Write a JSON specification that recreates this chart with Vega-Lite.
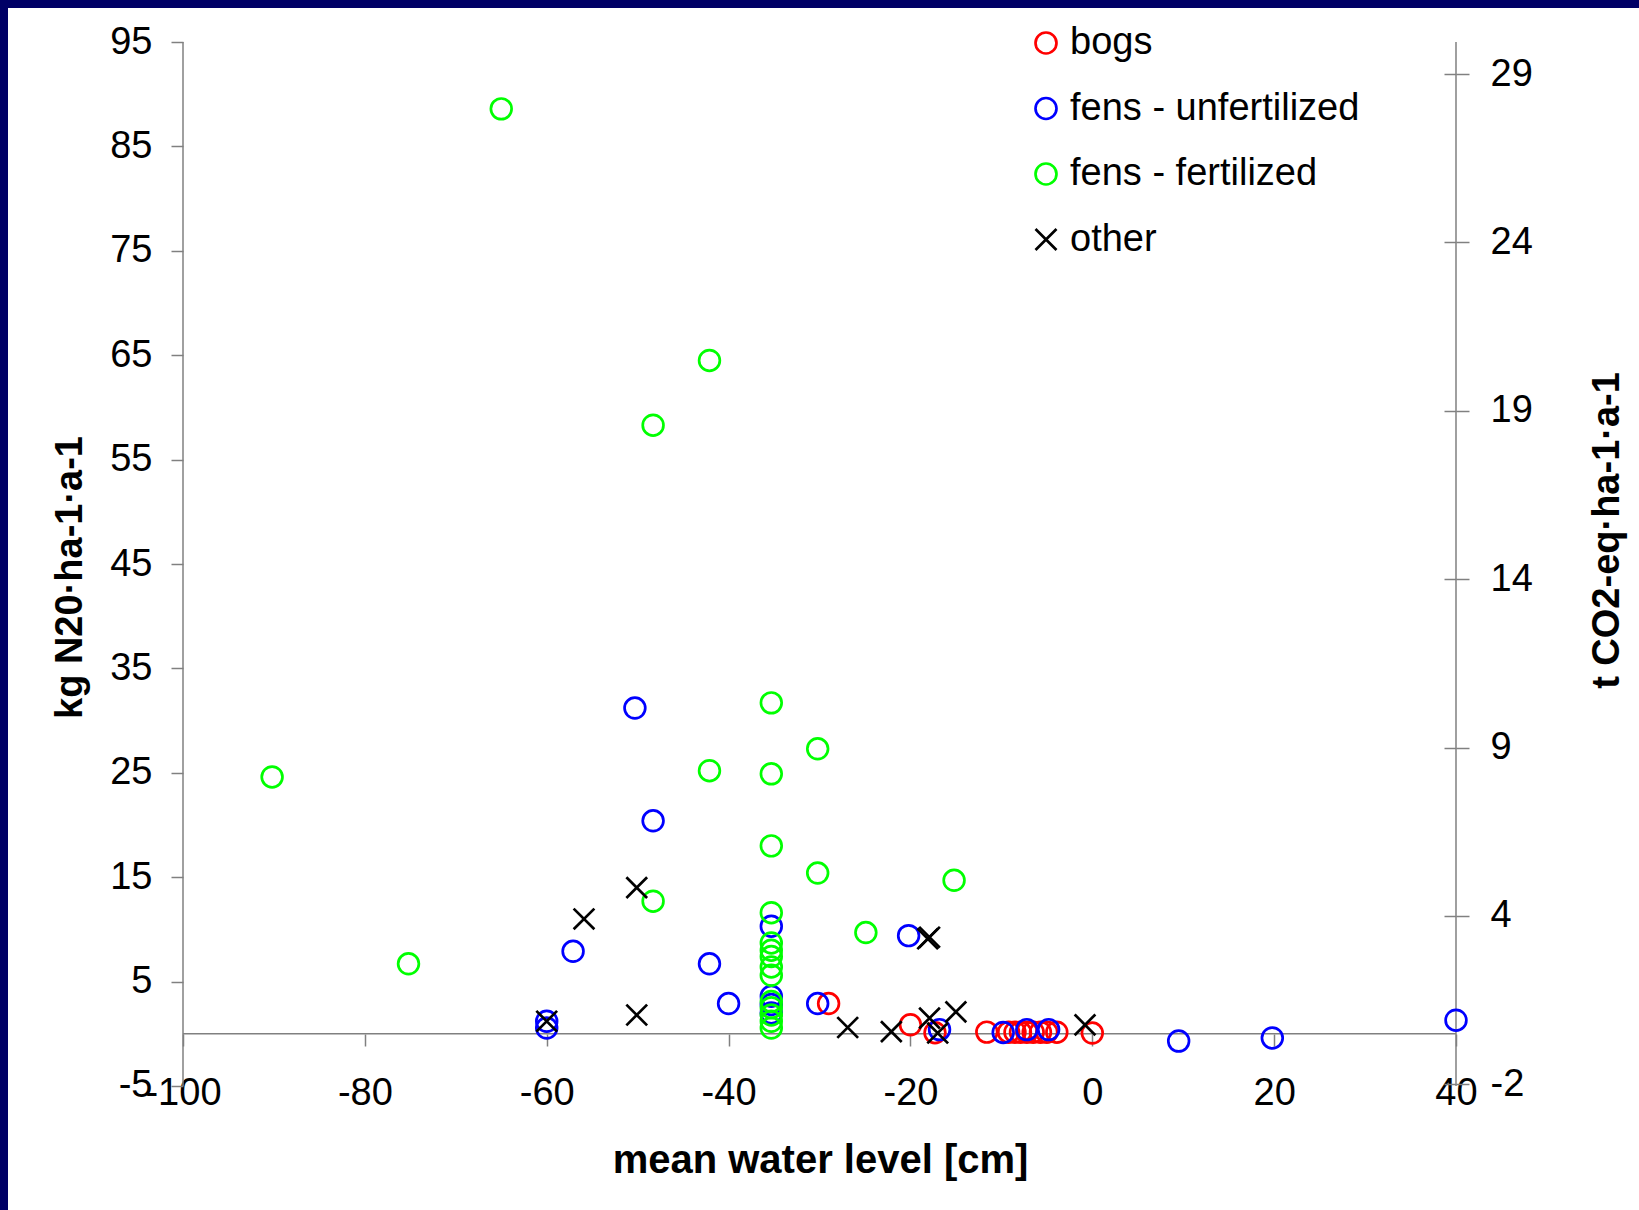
{
  "$schema": "https://vega.github.io/schema/vega-lite/v6.json",
  "width": 1631,
  "height": 1202,
  "autosize": {"type": "none"},
  "padding": {"left": 8, "top": 8, "right": 0, "bottom": 0},
  "background": "#000066",
  "config": {
    "view": {"fill": "white", "stroke": null},
    "font": "Liberation Sans",
    "axis": {
      "grid": false, "domain": false, "tickColor": "#808080", "tickWidth": 1.5,
      "labelFont": "Liberation Sans", "labelFontSize": 38, "labelColor": "black",
      "titleFont": "Liberation Sans", "titleFontSize": 38, "titleFontWeight": "bold", "titleColor": "black",
      "labelOverlap": false, "labelFlush": false, "labelBound": false
    },
    "legend": {
      "orient": "none", "legendX": 1019, "legendY": 16,
      "labelFont": "Liberation Sans", "labelFontSize": 38, "labelColor": "black", "labelLimit": 500,
      "symbolSize": 440, "symbolStrokeWidth": 2.7, "rowPadding": 27.5, "padding": 0, "labelOffset": 5
    }
  },
  "data": {
    "values": [
      {"type": "bogs", "water_level": -29, "n2o": 2.9},
      {"type": "bogs", "water_level": -20, "n2o": 0.86},
      {"type": "bogs", "water_level": -17.3, "n2o": 0.1},
      {"type": "bogs", "water_level": -11.6, "n2o": 0.16},
      {"type": "bogs", "water_level": -9.2, "n2o": 0.15},
      {"type": "bogs", "water_level": -8.5, "n2o": 0.15},
      {"type": "bogs", "water_level": -7.9, "n2o": 0.15},
      {"type": "bogs", "water_level": -7.2, "n2o": 0.15},
      {"type": "bogs", "water_level": -6.5, "n2o": 0.15},
      {"type": "bogs", "water_level": -5.7, "n2o": 0.15},
      {"type": "bogs", "water_level": -5.0, "n2o": 0.15},
      {"type": "bogs", "water_level": -3.9, "n2o": 0.15},
      {"type": "bogs", "water_level": 0, "n2o": 0.07},
      {"type": "fens - unfertilized", "water_level": -60, "n2o": 1.2},
      {"type": "fens - unfertilized", "water_level": -60, "n2o": 0.55},
      {"type": "fens - unfertilized", "water_level": -57.1, "n2o": 7.9},
      {"type": "fens - unfertilized", "water_level": -50.3, "n2o": 31.2},
      {"type": "fens - unfertilized", "water_level": -48.3, "n2o": 20.4},
      {"type": "fens - unfertilized", "water_level": -42.1, "n2o": 6.7},
      {"type": "fens - unfertilized", "water_level": -40, "n2o": 2.9},
      {"type": "fens - unfertilized", "water_level": -35.3, "n2o": 10.3},
      {"type": "fens - unfertilized", "water_level": -35.3, "n2o": 3.6},
      {"type": "fens - unfertilized", "water_level": -35.3, "n2o": 2.8},
      {"type": "fens - unfertilized", "water_level": -35.3, "n2o": 2.0},
      {"type": "fens - unfertilized", "water_level": -30.2, "n2o": 2.9},
      {"type": "fens - unfertilized", "water_level": -20.2, "n2o": 9.4},
      {"type": "fens - unfertilized", "water_level": -16.8, "n2o": 0.4},
      {"type": "fens - unfertilized", "water_level": -9.8, "n2o": 0.13},
      {"type": "fens - unfertilized", "water_level": -7.2, "n2o": 0.4},
      {"type": "fens - unfertilized", "water_level": -4.8, "n2o": 0.4},
      {"type": "fens - unfertilized", "water_level": 9.5, "n2o": -0.7},
      {"type": "fens - unfertilized", "water_level": 19.8, "n2o": -0.4},
      {"type": "fens - unfertilized", "water_level": 40, "n2o": 1.3},
      {"type": "fens - fertilized", "water_level": -90.2, "n2o": 24.6},
      {"type": "fens - fertilized", "water_level": -75.2, "n2o": 6.7},
      {"type": "fens - fertilized", "water_level": -65, "n2o": 88.6},
      {"type": "fens - fertilized", "water_level": -48.3, "n2o": 58.3},
      {"type": "fens - fertilized", "water_level": -48.3, "n2o": 12.7},
      {"type": "fens - fertilized", "water_level": -42.1, "n2o": 64.5},
      {"type": "fens - fertilized", "water_level": -42.1, "n2o": 25.2},
      {"type": "fens - fertilized", "water_level": -35.3, "n2o": 31.7},
      {"type": "fens - fertilized", "water_level": -35.3, "n2o": 24.9},
      {"type": "fens - fertilized", "water_level": -35.3, "n2o": 18.0},
      {"type": "fens - fertilized", "water_level": -35.3, "n2o": 11.6},
      {"type": "fens - fertilized", "water_level": -35.3, "n2o": 8.7},
      {"type": "fens - fertilized", "water_level": -35.3, "n2o": 8.0},
      {"type": "fens - fertilized", "water_level": -35.3, "n2o": 7.4},
      {"type": "fens - fertilized", "water_level": -35.3, "n2o": 6.4},
      {"type": "fens - fertilized", "water_level": -35.3, "n2o": 5.6},
      {"type": "fens - fertilized", "water_level": -35.3, "n2o": 3.1},
      {"type": "fens - fertilized", "water_level": -35.3, "n2o": 2.5},
      {"type": "fens - fertilized", "water_level": -35.3, "n2o": 1.8},
      {"type": "fens - fertilized", "water_level": -35.3, "n2o": 1.2},
      {"type": "fens - fertilized", "water_level": -35.3, "n2o": 0.55},
      {"type": "fens - fertilized", "water_level": -30.2, "n2o": 27.3},
      {"type": "fens - fertilized", "water_level": -30.2, "n2o": 15.4},
      {"type": "fens - fertilized", "water_level": -24.9, "n2o": 9.7},
      {"type": "fens - fertilized", "water_level": -15.2, "n2o": 14.7},
      {"type": "other", "water_level": -60, "n2o": 1.2},
      {"type": "other", "water_level": -55.9, "n2o": 11.0},
      {"type": "other", "water_level": -50.1, "n2o": 14.0},
      {"type": "other", "water_level": -50.1, "n2o": 1.8},
      {"type": "other", "water_level": -26.9, "n2o": 0.6},
      {"type": "other", "water_level": -22.1, "n2o": 0.2},
      {"type": "other", "water_level": -18.1, "n2o": 9.1},
      {"type": "other", "water_level": -17.9, "n2o": 9.25},
      {"type": "other", "water_level": -17.9, "n2o": 1.5},
      {"type": "other", "water_level": -17.0, "n2o": 0.07},
      {"type": "other", "water_level": -15, "n2o": 2.1},
      {"type": "other", "water_level": -0.8, "n2o": 0.86}
    ]
  },
  "layer": [
    {
      "data": {"values": [{}]},
      "mark": {"type": "rule", "color": "#808080", "strokeWidth": 1.5},
      "encoding": {
        "x": {"datum": -100, "type": "quantitative", "scale": {"domain": [-119.246, 60.126], "nice": false, "zero": false},
              "axis": {"orient": "bottom", "offset": -176, "values": [-100, -80, -60, -40, -20, 0, 20, 40], "tickSize": 12, "labelPadding": 28, "labelExpr": "'' + datum.value", "title": "mean water level [cm]", "titleFontSize": 40, "titleX": 812, "titleY": 126, "titleBaseline": "middle", "titleAlign": "center"}},
        "x2": {"datum": 40},
        "y": {"datum": 0, "type": "quantitative", "scale": {"domain": [-16.88, 98.26], "nice": false, "zero": false}, "axis": null}
      }
    },
    {
      "data": {"values": [{}]},
      "mark": {"type": "rule", "color": "#808080", "strokeWidth": 1.5},
      "encoding": {
        "x": {"datum": -100, "type": "quantitative", "scale": {"domain": [-119.246, 60.126], "nice": false, "zero": false},
              "axis": {"orient": "bottom", "offset": -176, "values": [-100, -80, -60, -40, -20, 0, 20, 40], "tickSize": 12, "labelPadding": 28, "labelExpr": "'' + datum.value", "title": "mean water level [cm]", "titleFontSize": 40, "titleX": 812, "titleY": 126, "titleBaseline": "middle", "titleAlign": "center"}},
        "y": {"datum": -5, "type": "quantitative", "scale": {"domain": [-16.88, 98.26], "nice": false, "zero": false}, "axis": null},
        "y2": {"datum": 95}
      }
    },
    {
      "data": {"values": [{}]},
      "mark": {"type": "rule", "color": "#808080", "strokeWidth": 1.5},
      "encoding": {
        "x": {"datum": 40, "type": "quantitative", "scale": {"domain": [-119.246, 60.126], "nice": false, "zero": false},
              "axis": {"orient": "bottom", "offset": -176, "values": [-100, -80, -60, -40, -20, 0, 20, 40], "tickSize": 12, "labelPadding": 28, "labelExpr": "'' + datum.value", "title": "mean water level [cm]", "titleFontSize": 40, "titleX": 812, "titleY": 126, "titleBaseline": "middle", "titleAlign": "center"}},
        "y": {"datum": -5, "type": "quantitative", "scale": {"domain": [-16.88, 98.26], "nice": false, "zero": false}, "axis": null},
        "y2": {"datum": 95}
      }
    },
    {
      "mark": {"type": "point", "filled": false, "size": 430, "strokeWidth": 2.7, "opacity": 1},
      "encoding": {
        "x": {"field": "water_level", "type": "quantitative", "scale": {"domain": [-119.246, 60.126], "nice": false, "zero": false},
              "axis": {"orient": "bottom", "offset": -176, "values": [-100, -80, -60, -40, -20, 0, 20, 40], "tickSize": 12, "labelPadding": 28, "labelExpr": "'' + datum.value", "title": "mean water level [cm]", "titleFontSize": 40, "titleX": 812, "titleY": 126, "titleBaseline": "middle", "titleAlign": "center"}},
        "y": {"field": "n2o", "type": "quantitative", "scale": {"domain": [-16.88, 98.26], "nice": false, "zero": false},
              "axis": {"orient": "left", "offset": -175, "values": [-5, 5, 15, 25, 35, 45, 55, 65, 75, 85, 95], "tickSize": 12, "labelPadding": 19, "labelExpr": "'' + datum.value", "title": "kg N20·ha-1·a-1", "titleX": -113, "titleY": 569, "titleAngle": 270, "titleBaseline": "middle", "titleAlign": "center"}},
        "color": {"field": "type", "type": "nominal",
                  "scale": {"domain": ["bogs", "fens - unfertilized", "fens - fertilized", "other"], "range": ["#ff0000", "#0000ff", "#00ff00", "#000000"]},
                  "legend": {"title": null}},
        "shape": {"field": "type", "type": "nominal",
                  "scale": {"domain": ["bogs", "fens - unfertilized", "fens - fertilized", "other"], "range": ["circle", "circle", "circle", "M-1,-1L1,1M1,-1L-1,1"]},
                  "legend": {"title": null}}
      }
    },
    {
      "data": {"values": [{}]},
      "mark": {"type": "point", "opacity": 0},
      "encoding": {
        "y": {"datum": 0, "type": "quantitative", "scale": {"domain": [-16.88, 98.26], "nice": false, "zero": false},
              "axis": {"orient": "right", "offset": -183, "values": [-4.83871, 11.29032, 27.41935, 43.54839, 59.67742, 75.80645, 91.93548], "tickSize": 13, "labelPadding": 21,
                       "labelExpr": "(datum.value < 0 ? '-' : '') + round(abs(datum.value) * 0.31 + 0.001)",
                       "title": "t CO2-eq·ha-1·a-1", "titleX": 151, "titleY": 522, "titleAngle": 270, "titleBaseline": "middle", "titleAlign": "center"}}
      }
    },
    {
      "data": {"values": [{}]},
      "mark": {"type": "point", "opacity": 0},
      "encoding": {
        "y": {"datum": 0, "type": "quantitative", "scale": {"domain": [-16.88, 98.26], "nice": false, "zero": false},
              "axis": {"orient": "right", "offset": -183, "values": [-4.83871, 11.29032, 27.41935, 43.54839, 59.67742, 75.80645, 91.93548], "tickSize": -12, "labels": false, "title": null}}
      }
    }
  ],
  "resolve": {"scale": {"y": "independent"}}
}
